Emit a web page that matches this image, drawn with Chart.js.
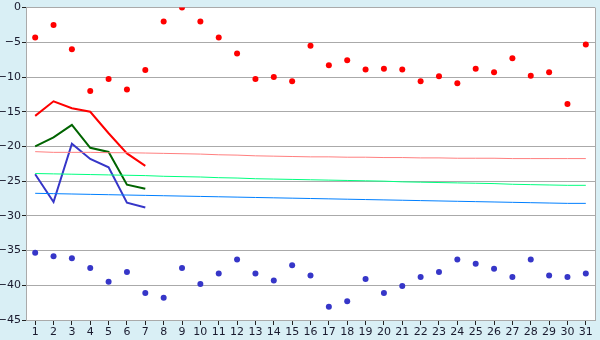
<!DOCTYPE html>
<html>
<head>
<meta charset="utf-8">
<script src="https://cdn.jsdelivr.net/npm/chart.js@4"></script>
<style>
  html, body { margin: 0; padding: 0; background: #d9eff5; }
  #wrap { width: 600px; height: 340px; }
</style>
</head>
<body>
<div id="wrap"><canvas id="chart" width="600" height="340"></canvas></div>
<script>
const days = Array.from({ length: 31 }, (_, i) => String(i + 1));

// scattered daily readings
const redPoints = [-4.3, -2.5, -6.0, -12.0, -10.3, -11.8, -9.0, -2.0, 0.0, -2.0,
  -4.3, -6.6, -10.3, -10.0, -10.6, -5.5, -8.3, -7.6, -8.9, -8.8,
  -8.9, -10.6, -9.9, -10.9, -8.8, -9.3, -7.3, -9.8, -9.3, -13.9, -5.3];
const bluePoints = [-35.3, -35.8, -36.1, -37.5, -39.5, -38.1, -41.1, -41.8, -37.5, -39.8,
  -38.3, -36.3, -38.3, -39.3, -37.1, -38.6, -43.1, -42.3, -39.1, -41.1,
  -40.1, -38.8, -38.1, -36.3, -36.9, -37.6, -38.8, -36.3, -38.6, -38.8, -38.3];

// first week lines
const redLine = [-15.6, -13.5, -14.5, -15.0, -18.1, -21.0, -22.8];
const greenLine = [-20.0, -18.7, -16.9, -20.2, -20.8, -25.5, -26.1];
const blueLine = [-24.0, -28.0, -19.6, -21.8, -23.0, -28.1, -28.8];

// thin reference lines
const pinkRef = [-20.75, -20.85, -20.85, -20.85, -20.9, -20.9, -20.95, -21.0, -21.05, -21.1,
  -21.2, -21.25, -21.35, -21.4, -21.45, -21.5, -21.5, -21.55, -21.55, -21.6,
  -21.6, -21.65, -21.65, -21.7, -21.7, -21.7, -21.75, -21.75, -21.75, -21.75, -21.75];
const greenRef = [-23.9, -23.95, -24.0, -24.05, -24.1, -24.15, -24.2, -24.3, -24.35, -24.4,
  -24.5, -24.55, -24.65, -24.7, -24.75, -24.8, -24.85, -24.9, -24.95, -25.0,
  -25.1, -25.15, -25.2, -25.25, -25.3, -25.35, -25.45, -25.5, -25.55, -25.6, -25.6];
const blueRef = [-26.75, -26.8, -26.85, -26.9, -26.95, -27.0, -27.05, -27.1, -27.15, -27.2,
  -27.25, -27.3, -27.35, -27.4, -27.45, -27.5, -27.55, -27.6, -27.65, -27.7,
  -27.75, -27.8, -27.85, -27.9, -27.95, -28.0, -28.05, -28.1, -28.15, -28.2, -28.2];

const yTicks = [0, -5, -10, -15, -20, -25, -30, -35, -40, -45];

const bgPlugin = {
  id: "bg",
  beforeDraw(chart) {
    const { ctx, chartArea: a } = chart;
    ctx.save();
    ctx.fillStyle = "#d9eff5";
    ctx.fillRect(0, 0, chart.width, chart.height);
    ctx.fillStyle = "#ffffff";
    ctx.fillRect(a.left, a.top, a.right - a.left, a.bottom - a.top);
    ctx.restore();
  },
  afterDatasetsDraw(chart) {
    const { ctx, chartArea: a } = chart;
    ctx.save();
    ctx.strokeStyle = "#aaaaaa";
    ctx.lineWidth = 1;
    ctx.beginPath();
    ctx.moveTo(Math.round(a.right) + 0.5, a.top);
    ctx.lineTo(Math.round(a.right) + 0.5, a.bottom);
    ctx.stroke();
    ctx.restore();
  },
};

function pts(data, color) {
  return {
    data,
    showLine: false,
    pointStyle: "circle",
    pointRadius: 3,
    pointBackgroundColor: color,
    pointBorderColor: color,
    pointBorderWidth: 0,
  };
}

function line(data, color, width) {
  return {
    data,
    borderColor: color,
    borderWidth: width,
    pointRadius: 0,
    fill: false,
    tension: 0,
  };
}

new Chart(document.getElementById("chart"), {
  type: "line",
  data: {
    labels: days,
    datasets: [
      line(pinkRef, "#ff7f7f", 1),
      line(greenRef, "#00ff7f", 1),
      line(blueRef, "#007fff", 1),
      line(redLine, "#ff0000", 2),
      line(greenLine, "#006400", 2),
      line(blueLine, "#3636c8", 2),
      pts(redPoints, "#ff0000"),
      pts(bluePoints, "#3636c8"),
    ],
  },
  options: {
    responsive: false,
    animation: false,
    layout: { padding: { top: 5, right: 5, left: 0, bottom: 0 } },
    plugins: { legend: { display: false }, tooltip: { enabled: false } },
    scales: {
      x: {
        offset: true,
        grid: {
          offset: false,
          drawOnChartArea: false,
          drawTicks: true,
          tickLength: 5,
          color: "#222222",
        },
        border: { color: "#aaaaaa" },
        ticks: {
          color: "#1a1a2e",
          font: { family: "DejaVu Sans", size: 11 },
          padding: 1,
          maxRotation: 0,
          autoSkip: false,
        },
        afterFit(scale) { scale.height = 20; },
      },
      y: {
        min: -45,
        max: 0,
        afterBuildTicks(scale) { scale.ticks = yTicks.map((v) => ({ value: v })); },
        grid: { color: "#aaaaaa", tickLength: 4, tickColor: "#222222" },
        border: { color: "#aaaaaa" },
        ticks: {
          color: "#1a1a2e",
          font: { family: "DejaVu Sans", size: 11 },
          padding: 1,
          callback: (v) => String(v).replace("-", "\u2212"),
        },
        afterFit(scale) { scale.width = 26; },
      },
    },
  },
  plugins: [bgPlugin],
});
</script>
</body>
</html>
